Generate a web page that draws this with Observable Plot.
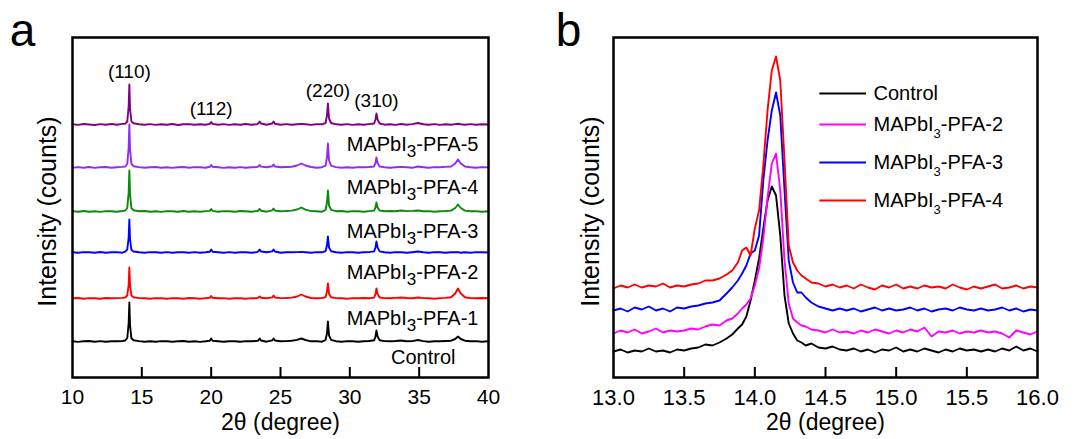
<!DOCTYPE html>
<html><head><meta charset="utf-8">
<script src="https://cdn.jsdelivr.net/npm/d3@7"></script>
<script src="https://cdn.jsdelivr.net/npm/@observablehq/plot@0.6"></script>
<style>
body{margin:0;background:#fff}
#wrap{position:relative;width:1075px;height:439px;overflow:hidden;background:#fff}
#wrap svg{position:absolute;top:0}
</style>
</head><body><div id="wrap"></div>
<script>
// ---------- Panel a: full XRD patterns (stacked) ----------
const namesA = ["MAPbI3-PFA-5", "MAPbI3-PFA-4", "MAPbI3-PFA-3", "MAPbI3-PFA-2", "MAPbI3-PFA-1", "Control"];
const offsetsA = [253, 210, 166, 125, 79, 36]; // stacking offsets (a.u.)
const xA = [
  10.0, 10.4, 10.8, 11.2, 11.6, 12.0, 12.4, 12.8, 13.2, 13.6,
  13.8, 13.95, 14.05, 14.1, 14.15, 14.25, 14.4, 14.8, 15.2, 15.6,
  16.0, 16.4, 16.8, 17.2, 17.6, 18.0, 18.4, 18.8, 19.2, 19.6,
  19.9, 20.0, 20.1, 20.5, 20.9, 21.3, 21.7, 22.1, 22.5, 22.9,
  23.3, 23.4, 23.5, 23.6, 24.0, 24.4, 24.5, 24.6, 25.0, 25.4,
  25.8, 26.2, 26.5, 26.8, 27.2, 27.6, 28.0, 28.25, 28.35, 28.42,
  28.5, 28.65, 29.0, 29.4, 29.8, 30.2, 30.6, 31.0, 31.4, 31.75,
  31.85, 31.92, 32.0, 32.15, 32.5, 32.9, 33.3, 33.7, 34.1, 34.5,
  34.9, 35.3, 35.7, 36.1, 36.5, 36.9, 37.3, 37.6, 37.8, 38.0,
  38.3, 38.7, 39.1, 39.5, 40.0
];
const pfa5A = [
  0.3, -0.4, 0.5, 0, -0.5, 0.4, -0.2, 0.5, -0.3, 0.6,
  0.8, 3, 18, 40, 16, 3, 1.2, 0.3, -0.3, 0.4,
  -0.4, 0.3, -0.2, 0.5, -0.5, 0.2, 0.4, -0.3, 0.3, -0.2,
  0.6, 2.5, 0.6, -0.3, 0.4, -0.4, 0.3, -0.2, 0.5, -0.3,
  0.3, 1.2, 3, 1, -0.2, 1, 3, 0.8, -0.3, 0.4,
  -0.3, 0.3, 0.6, 0.2, -0.4, 0.3, 0.2, 1.5, 9, 21,
  6, 1.5, 0.2, -0.3, 0.4, -0.4, 0.3, -0.2, 0.4, 1,
  5, 11, 5, 1, -0.2, 0.3, -0.4, 0.5, -0.3, 0.4,
  1.5, 0.3, -0.2, 0.4, -0.4, 0.3, -0.2, 0.4, 0.8, 0.2,
  -0.3, 0.4, -0.2, 0.3, 0
];
const pfa4A = [
  -0.3, 0.4, -0.2, 0.5, -0.4, 0.3, 0.5, -0.3, 0.2, 0.6,
  1, 3.5, 20, 43, 18, 3.5, 1.3, 0.4, -0.2, 0.3,
  0.5, -0.3, 0.3, -0.4, 0.2, 0.5, -0.3, 0.4, 0.2, -0.2,
  0.7, 2.5, 0.7, 0.3, -0.4, 0.3, -0.2, 0.4, -0.3, 0.2,
  0.4, 1, 2.5, 0.9, 0.2, 1.2, 3, 1, 0.2, 0.5,
  0.8, 2, 4, 2, 0.5, -0.2, 0.3, 1.8, 10, 24,
  7, 1.8, 0.4, -0.3, 0.3, -0.2, 0.4, 0.2, 0.5, 1,
  4.5, 10, 4.5, 1, 0.3, -0.2, 0.3, 0.6, 0.2, -0.3,
  1, 0.3, -0.3, 0.4, 0.2, 0.6, 1, 4, 8, 4,
  1, 0.3, -0.2, 0.4, 0.1
];
const pfa3A = [
  0.4, -0.3, 0.5, -0.2, 0.3, -0.4, 0.4, 0.2, -0.3, 0.5,
  1, 3.5, 19, 41, 17, 3.5, 1.2, 0.3, 0.5, -0.2,
  0.3, -0.4, 0.4, 0.2, -0.3, 0.5, -0.2, 0.3, -0.3, 0.4,
  0.6, 2.5, 0.6, -0.2, 0.4, 0.2, -0.3, 0.5, 0.2, -0.2,
  0.5, 1, 2.5, 0.8, -0.2, 1.1, 3, 0.9, 0.3, 0.5,
  0.9, 2, 4, 1.8, 0.4, 0.2, -0.2, 1.5, 9, 21,
  6, 1.6, 0.3, 0.5, -0.2, 0.4, 0.2, -0.3, 0.4, 0.9,
  4, 9, 4, 1, 0.3, 0.5, 0.2, 1, 0.4, 0.6,
  1, 0.2, 0.4, -0.2, 0.3, 0.5, 0.9, 3.5, 7, 3.5,
  0.9, 0.2, 0.4, -0.2, 0.3
];
const pfa2A = [
  0.2, -0.3, 0.4, 0.3, -0.2, 0.5, -0.3, 0.3, 0.4, -0.2,
  0.8, 3, 15, 33, 13, 2.5, 1, 0.2, -0.3, 0.4,
  0.2, -0.2, 0.4, -0.3, 0.3, 0.2, -0.3, 0.4, -0.2, 0.3,
  0.8, 3, 0.8, 0.2, -0.3, 0.4, -0.2, 0.3, 0.2, -0.3,
  0.4, 1.2, 3, 1, 0.2, 1.1, 3, 1, -0.2, 0.3,
  0.2, 0.4, 0.6, 0.3, -0.2, 0.4, 0.2, 1.4, 7, 16,
  5, 1.3, 0.2, -0.3, 0.4, 0.2, -0.2, 0.3, 0.4, 1.1,
  5, 11, 5, 1.1, 0.3, -0.2, 0.4, 0.2, -0.3, 0.3,
  1, 0.3, -0.2, 0.4, 0.2, -0.3, 0.3, 0.2, 0.4, -0.2,
  0.3, -0.2, 0.4, 0.2, 0
];
const pfa1A = [
  0.3, 0.5, -0.2, 0.4, 0.2, -0.3, 0.5, 0.2, 0.4, 0.6,
  1, 3, 14, 31, 13, 3, 1.2, 0.4, 0.2, -0.2,
  0.4, 0.2, -0.3, 0.4, 0.2, -0.2, 0.5, 0.3, -0.2, 0.4,
  0.7, 2.5, 0.7, 0.2, 0.4, -0.2, 0.3, 0.2, -0.3, 0.4,
  0.3, 0.9, 2, 0.8, 0.3, 1.1, 3, 1, 0.4, 0.5,
  0.9, 2, 4, 2, 0.5, 0.2, 0.4, 1.3, 7, 15,
  4.5, 1.3, 0.4, 0.2, -0.2, 0.4, 0.2, 0.5, 0.3, 0.9,
  4.5, 10, 4.5, 1, 0.4, 0.3, 0.6, 1, 0.5, 0.3,
  1, 0.4, 0.2, -0.2, 0.4, 0.6, 1.3, 5, 10, 5,
  1.2, 0.4, 0.2, 0.5, 0.3
];
const controlA = [
  0.2, -0.4, 0.3, 0.5, -0.2, 0.4, -0.3, 0.3, 0.2, 0.5,
  1, 3.5, 18, 39, 16, 3.2, 1.2, 0.4, -0.2, 0.3,
  -0.3, 0.4, 0.2, -0.3, 0.3, 0.5, -0.2, 0.3, -0.4, 0.2,
  0.8, 3, 0.8, 0.2, -0.3, 0.3, 0.2, -0.3, 0.4, 0.2,
  0.5, 1.2, 3, 1, -0.2, 1.2, 3, 1, 0.2, 0.4,
  0.7, 1.6, 3, 1.5, 0.2, 0.4, -0.2, 1.5, 8, 20,
  6, 1.6, 0.3, -0.2, 0.4, 0.2, -0.3, 0.3, 0.5, 1.2,
  5, 11, 5, 1.2, 0.4, 0.2, 0.5, 1, 0.3, 0.4,
  1.5, 0.4, -0.2, 0.3, 0.2, 0.5, 0.8, 2.5, 5, 2.5,
  0.8, 0.2, 0.4, -0.2, 0.3
];
const intensA = [pfa5A, pfa4A, pfa3A, pfa2A, pfa1A, controlA];
const hklLabels = ["(110)", "(112)", "(220)", "(310)"];
const hklAngles = [14.1, 20.0, 28.42, 31.92];
const ticksA = [10, 15, 20, 25, 30, 35, 40];

// ---------- Panel b: zoom on the (110) peak ----------
const namesB = ["Control", "MAPbI3-PFA-2", "MAPbI3-PFA-3", "MAPbI3-PFA-4"];
const xB = [
  13.00, 13.05, 13.10, 13.15, 13.20, 13.25, 13.30, 13.35, 13.40, 13.45,
  13.50, 13.55, 13.60, 13.65, 13.70, 13.75, 13.80, 13.84, 13.88, 13.91,
  13.94, 13.97, 14.00, 14.03, 14.06, 14.09, 14.12, 14.15, 14.18, 14.21,
  14.24, 14.27, 14.30, 14.33, 14.36, 14.40, 14.45, 14.50, 14.55, 14.60,
  14.65, 14.70, 14.75, 14.80, 14.85, 14.90, 14.95, 15.00, 15.05, 15.10,
  15.15, 15.20, 15.25, 15.30, 15.35, 15.40, 15.45, 15.50, 15.55, 15.60,
  15.65, 15.70, 15.75, 15.80, 15.85, 15.90, 15.95, 16.00
];
const controlB = [
  26, 28, 25, 27, 26, 29, 26, 27, 25, 28,
  27, 29, 30, 33, 32, 35, 39, 43, 49, 53,
  61, 77, 97, 119, 149, 177, 191, 182, 142, 82,
  54, 44, 37, 35, 32, 34, 30, 29, 31, 28,
  27, 29, 26, 28, 25, 28, 27, 30, 26, 28,
  26, 29, 27, 25, 28, 26, 29, 27, 28, 26,
  28, 26, 29, 27, 31, 27, 29, 26
];
const pfa2B = [
  44, 47, 45, 48, 44, 46, 49, 45, 47, 46,
  47, 49, 48, 51, 53, 52, 57, 59, 64, 69,
  73, 79, 92, 109, 139, 180, 214, 224, 187, 117,
  74, 59, 55, 52, 51, 48, 47, 45, 48, 45,
  46, 44, 47, 45, 48, 46, 44, 47, 45, 48,
  46, 50, 41, 46, 45, 47, 44, 46, 45, 47,
  45, 46, 44, 40, 47, 45, 43, 46
];
const pfa3B = [
  67, 69, 66, 70, 68, 71, 67, 69, 66, 70,
  69, 71, 72, 74, 75, 77, 84, 90, 97, 104,
  112, 124, 127, 142, 197, 237, 267, 285, 262, 187,
  117, 95, 85, 85, 80, 75, 71, 69, 67, 69,
  67, 69, 66, 68, 70, 67, 69, 67, 68, 70,
  67, 69, 66, 68, 69, 67, 70, 68, 67, 69,
  67, 68, 70, 67, 69, 66, 68, 67
];
const pfa4B = [
  89, 92, 90, 93, 90, 92, 91, 94, 90, 92,
  91, 93, 94, 97, 97, 99, 103, 107, 115, 127,
  130, 122, 149, 167, 212, 267, 307, 321, 297, 217,
  132, 115, 107, 102, 99, 95, 94, 91, 93, 90,
  92, 89, 93, 90, 88, 92, 90, 93, 89, 91,
  89, 92, 90, 91, 89, 93, 90, 88, 91, 89,
  91, 93, 89, 90, 92, 89, 91, 90
];
const intensB = [controlB, pfa2B, pfa3B, pfa4B];
const ticksB = [13.0, 13.5, 14.0, 14.5, 15.0, 15.5, 16.0];

// ---------- styling ----------
const FONT = "'Liberation Sans', Arial, Helvetica, sans-serif";
const colorsA = ["#800080", "#8f2bf5", "#0a8a0a", "#0000ff", "#ff0000", "#000000"];
const colorsB = ["#000000", "#ff00ff", "#0000ff", "#ff0000"];
const baseStyle = {fontFamily: FONT, fontSize: "20px", color: "black", background: "transparent", overflow: "visible"};

// ---------- tables built from the arrays ----------
const dataA = [];
namesA.forEach((n, i) => {
  if (intensA[i].length !== xA.length) console.warn("length mismatch A", n, intensA[i].length);
  xA.forEach((a, j) => dataA.push({series: n, angle: a, value: offsetsA[i] + intensA[i][j]}));
});
const dataB = [];
namesB.forEach((n, i) => {
  if (intensB[i].length !== xB.length) console.warn("length mismatch B", n, intensB[i].length);
  xB.forEach((a, j) => dataB.push({series: n, angle: a, value: intensB[i][j]}));
});
const hklData = hklLabels.map((l, i) => ({label: l, angle: hklAngles[i],
  value: offsetsA[0] + pfa5A[xA.indexOf(hklAngles[i])]}));
const labelA = namesA.map((n, i) => ({name: n, value: offsetsA[i]}));
const legendB = namesB.map((n, i) => ({name: n, ly: [284, 253, 215, 177][i]}));

function subscriptify(svg, size, shift) {
  d3.select(svg).selectAll("text").each(function () {
    const t = this.textContent;
    const m = t.match(/^(.*MAPbI)3(.*)$/);
    if (!m || this.querySelector("tspan")) return;
    const sel = d3.select(this);
    sel.text(null);
    sel.append("tspan").text(m[1]);
    sel.append("tspan").attr("dy", shift).attr("font-size", size).text("3");
    sel.append("tspan").attr("dy", -shift).text(m[2]);
  });
}

const plotA = Plot.plot({
  width: 537, height: 439,
  marginLeft: 72, marginRight: 49, marginTop: 37, marginBottom: 62,
  x: {domain: [10, 40]},
  y: {domain: [0, 340], axis: null},
  color: {domain: namesA, range: colorsA},
  style: baseStyle,
  marks: [
    Plot.line(dataA, {x: "angle", y: "value", z: "series", stroke: "series", strokeWidth: 1.9}),
    Plot.tickX(ticksA.slice(1, -1), {x: d => d, insetTop: 330, stroke: "black", strokeWidth: 2}),
    Plot.axisX({ticks: ticksA, tickSize: 0, tickPadding: 12, tickFormat: d3.format("d"), label: null, fontSize: 21}),
    Plot.frame({stroke: "black", strokeWidth: 2.5}),
    Plot.text(hklData, {x: "angle", y: "value", text: "label", lineAnchor: "bottom", dy: -7, fontSize: 19}),
    Plot.text(labelA.filter(d => d.name !== "Control"), {y: "value", text: "name", frameAnchor: "right", textAnchor: "end", lineAnchor: "middle", dx: -10, dy: 20, fontSize: 20}),
    Plot.text(labelA.filter(d => d.name === "Control"), {y: "value", text: "name", frameAnchor: "right", textAnchor: "end", lineAnchor: "middle", dx: -33, dy: 16, fontSize: 20}),
    Plot.text(["Intensity (counts)"], {text: d => d, frameAnchor: "left", textAnchor: "middle", lineAnchor: "middle", rotate: -90, dx: -25, dy: 4, fontSize: 25}),
    Plot.text(["2θ (degree)"], {text: d => d, frameAnchor: "bottom", textAnchor: "middle", lineAnchor: "middle", dy: 45, fontSize: 23}),
    Plot.text(["a"], {text: d => d, frameAnchor: "top-left", textAnchor: "middle", lineAnchor: "middle", dx: -50, dy: -6, fontSize: 46})
  ]
});
plotA.style.left = "0px";
subscriptify(plotA, 17, 6);

const plotB = Plot.plot({
  width: 538, height: 439,
  marginLeft: 76, marginRight: 38, marginTop: 37, marginBottom: 62,
  x: {domain: [13, 16]},
  y: {domain: [0, 340], axis: null},
  color: {domain: namesB, range: colorsB},
  style: baseStyle,
  marks: [
    Plot.line(dataB, {x: "angle", y: "value", z: "series", stroke: "series", strokeWidth: 1.9}),
    Plot.tickX(ticksB.slice(1, -1), {x: d => d, insetTop: 330, stroke: "black", strokeWidth: 2}),
    Plot.axisX({ticks: ticksB, tickSize: 0, tickPadding: 12, tickFormat: d3.format(".1f"), label: null, fontSize: 22}),
    Plot.frame({stroke: "black", strokeWidth: 2.5}),
    Plot.ruleY(legendB, {y: "ly", x1: 14.46, x2: 14.79, stroke: "name", strokeWidth: 2}),
    Plot.text(legendB, {y: "ly", x: 14.84, text: "name", textAnchor: "start", lineAnchor: "middle", fontSize: 20}),
    Plot.text(["Intensity (counts)"], {text: d => d, frameAnchor: "left", textAnchor: "middle", lineAnchor: "middle", rotate: -90, dx: -23, dy: 4, fontSize: 25}),
    Plot.text(["2θ (degree)"], {text: d => d, frameAnchor: "bottom", textAnchor: "middle", lineAnchor: "middle", dy: 45, fontSize: 23}),
    Plot.text(["b"], {text: d => d, frameAnchor: "top-left", textAnchor: "middle", lineAnchor: "middle", dx: -45, dy: -6, fontSize: 46})
  ]
});
plotB.style.left = "537px";
subscriptify(plotB, 13, 7);

const wrap = document.getElementById("wrap");
wrap.appendChild(plotA);
wrap.appendChild(plotB);
</script></body></html>
